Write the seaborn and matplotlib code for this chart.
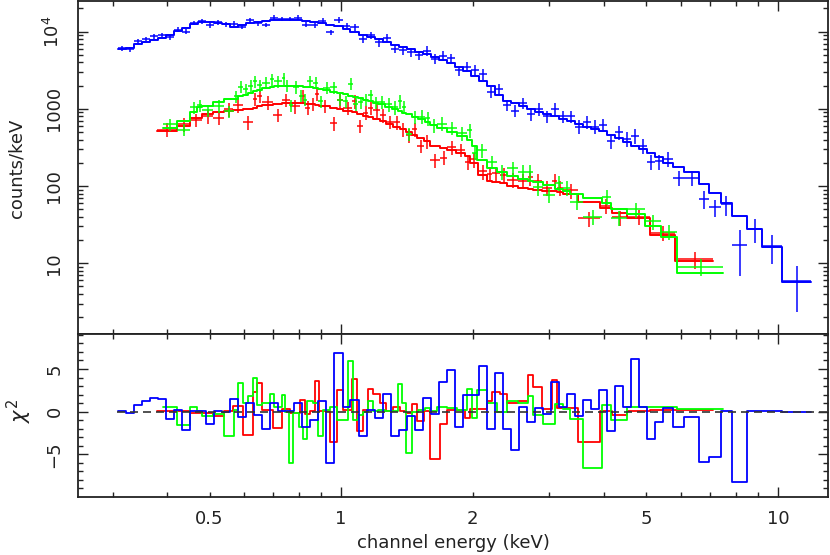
import numpy as np
import pandas as pd
import matplotlib
matplotlib.use("Agg")
import matplotlib.pyplot as plt
import seaborn as sns
from matplotlib.ticker import FixedLocator, NullFormatter

# ---------------- data ----------------
blue_edges = [0.309, 0.322, 0.336, 0.351, 0.366, 0.382, 0.398, 0.415, 0.433, 0.452,
              0.471, 0.492, 0.513, 0.535, 0.558, 0.582, 0.607, 0.633, 0.661, 0.689,
              0.719, 0.750, 0.782, 0.816, 0.851, 0.888, 0.926, 0.966, 1.008,
              1.051, 1.097, 1.144, 1.193, 1.245, 1.298, 1.354, 1.413, 1.474, 1.537,
              1.603, 1.673, 1.745, 1.820, 1.898, 1.980, 2.066, 2.155, 2.248, 2.345,
              2.446, 2.551, 2.661, 2.776, 2.896, 3.021, 3.151, 3.287, 3.428, 3.576,
              3.730, 3.891, 4.059, 4.234, 4.416, 4.607, 4.805, 5.012, 5.228, 5.454,
              5.75, 6.1, 6.6, 6.97, 7.4, 7.85, 8.5, 9.2, 10.2, 11.9]
blue_model = [5950, 6100, 7000, 7400, 7900, 8300, 9200, 10300, 11300, 12700,
              13300, 13400, 13000, 12500, 11600, 12300, 13000, 13500, 13800, 14100,
              14300, 14300, 14100, 13800, 13200, 12800, 12200, 11700,
              11000, 10000, 9200, 8600, 8000, 7300, 6800, 6300, 5900, 5500,
              5100, 4700, 4300, 3900, 3500, 3100, 2700, 2300, 1950, 1500,
              1280, 1200, 1100, 1000, 920, 860, 800, 740, 690, 640,
              590, 545, 510, 460, 415, 370, 335, 300, 270, 240,
              200, 175, 150, 106, 81, 60, 41, 27.7, 16.2, 5.7]
blue_data = [6100, 5950, 7500, 8070, 8700, 9110, 8500, 10670, 9990, 13000,
             13640, 12130, 13300, 12550, 12740, 11540, 14040, 12820, 12240, 15230,
             14660, 14660, 15230, 12320, 12140, 13920, 9810, 14160,
             11930, 11420, 8000, 9060, 7300, 8300, 6000, 5750, 5400, 5000,
             5700, 4450, 4900, 4500, 3150, 3500, 3150, 2800, 1650, 1800,
             1120, 950, 1200, 860, 1000, 800, 1000, 800, 800, 590,
             680, 590, 620, 380, 500, 410, 450, 330, 205, 210,
             225, 128, 127, 68, 53, 58, 17, 28, 16.5, 5.8]
blue_err = [0.07, 0.07, 0.07, 0.07, 0.07, 0.07, 0.07, 0.07, 0.07, 0.07,
            0.07, 0.07, 0.07, 0.07, 0.07, 0.07, 0.07, 0.07, 0.07, 0.07,
            0.07, 0.07, 0.07, 0.07, 0.08, 0.08, 0.08, 0.08,
            0.10, 0.10, 0.11, 0.11, 0.12, 0.12, 0.13, 0.13, 0.13, 0.14,
            0.14, 0.14, 0.15, 0.15, 0.15, 0.15, 0.16, 0.16, 0.16, 0.16,
            0.17, 0.17, 0.17, 0.18, 0.18, 0.18, 0.19, 0.19, 0.19, 0.20,
            0.20, 0.20, 0.20, 0.21, 0.21, 0.21, 0.22, 0.22, 0.22, 0.22,
            0.22, 0.22, 0.22, 0.25, 0.25, 0.30, 0.60, 0.35, 0.40, 0.60]
blue_chi = [0.1, -0.1, 0.8, 1.3, 1.6, 1.5, -0.9, 0.2, -2.1, 0.1,
            0.1, -1.4, 0.1, 0.0, 1.5, -0.6, 1.0, -0.4, -2.0, 1.0,
            0.1, 0.1, 1.0, -1.8, -1.0, 1.2, -6.0, 6.9,
            0.5, 1.4, -2.9, 0.2, -0.8, 2.1, -2.8, -2.1, -0.5, -2.2,
            1.6, -0.3, 3.5, 4.9, -1.8, 2.0, 2.0, 5.3, -2.0, 4.5,
            -2.0, -4.5, 0.5, -1.2, 0.4, -0.3, 3.5, 0.5, 2.1, -0.5,
            1.4, 0.3, 2.5, -2.3, 3.0, 0.6, 6.2, 0.5, -3.2, -1.2,
            0.4, -1.8, -0.6, -5.9, -5.3, 0.05, -8.2, 0.1, 0.05, -0.05]

green_edges = [0.3915, 0.4214, 0.4514, 0.4684, 0.4809, 0.5095, 0.5398, 0.5689, 0.5810, 0.5966,
               0.6125, 0.6289, 0.6423, 0.6594, 0.6879, 0.7025, 0.7328, 0.7445, 0.7604, 0.7766,
               0.8015, 0.8186, 0.8360, 0.8628, 0.8860, 0.9095, 0.9436, 0.9791, 1.0106, 1.0376,
               1.0653, 1.0937, 1.1228, 1.1529, 1.1837, 1.2152, 1.2608, 1.3082, 1.3503, 1.3791,
               1.4084, 1.4537, 1.5006, 1.5570, 1.5985, 1.6585, 1.7483, 1.8428, 1.9425, 1.9944,
               2.0477, 2.1585, 2.2751, 2.3982, 2.5410, 2.6785, 2.7500, 2.8989, 3.0893, 3.2211,
               3.3420, 3.5801, 3.9563, 4.1481, 4.5114, 4.9624, 5.3993, 5.8738, 7.4840]
green_model = [560, 700, 920, 1050, 1100, 1210, 1340, 1340, 1450, 1520,
               1600, 1680, 1750, 1860, 1930, 1990, 1990, 2000, 1990, 1980,
               1960, 1940, 1910, 1860, 1800, 1740, 1670, 1600, 1540, 1480,
               1420, 1370, 1310, 1260, 1200, 1140, 1070, 990, 930, 890,
               850, 790, 730, 670, 610, 560, 500, 440, 398, 330,
               220, 171, 150, 135, 125, 117, 112, 104, 92, 85,
               80, 69, 60, 50, 43, 30, 22, 7.5]
green_data = [630, 540, 1050, 1110, 960, 1090, 935, 1450, 1930, 1790,
              1990, 2290, 2030, 2190, 2430, 2270, 2500, 2000, 1110, 1920,
              1490, 1320, 2290, 2190, 1260, 1880, 1900, 1310, 1260, 2130,
              1160, 1210, 1310, 1510, 1210, 1240, 1140, 1050, 1260, 1070,
              475, 790, 795, 755, 615, 645, 565, 480, 530, 272,
              290, 205, 152, 169, 152, 152, 96, 77, 111, 95,
              63, 40, 72, 39, 50, 35, 25.5, 9.0]
green_err = [0.18, 0.18, 0.18, 0.18, 0.18, 0.18, 0.18, 0.18, 0.18, 0.18,
             0.18, 0.18, 0.18, 0.18, 0.18, 0.18, 0.18, 0.18, 0.18, 0.18,
             0.18, 0.18, 0.18, 0.18, 0.18, 0.18, 0.18, 0.18, 0.18, 0.18,
             0.18, 0.18, 0.18, 0.18, 0.18, 0.20, 0.20, 0.20, 0.20, 0.20,
             0.20, 0.20, 0.20, 0.20, 0.20, 0.20, 0.20, 0.20, 0.20, 0.20,
             0.20, 0.20, 0.22, 0.22, 0.22, 0.22, 0.22, 0.22, 0.22, 0.22,
             0.22, 0.22, 0.22, 0.22, 0.22, 0.22, 0.22, 0.25]
green_chi = [0.5, -1.6, 0.6, 0.1, -0.5, -0.3, -2.8, 0.2, 3.4, 1.0,
             1.8, 4.0, 0.8, 1.0, 2.1, 0.6, 2.0, 0.0, -6.0, -0.1,
             -1.8, -3.2, 1.2, 1.0, -2.8, 0.2, 0.6, -1.0, -1.0, 5.9,
             -1.0, -0.4, 0.0, 1.2, 0.05, 0.2, 0.1, 0.1, 3.2, 1.0,
             -4.9, 0.0, 0.2, 0.4, 0.05, 0.6, 0.4, 0.2, 2.7, -0.8,
             2.5, 1.0, 0.0, 1.3, 1.0, 1.8, -0.4, -1.4, 0.9, 0.3,
             -0.9, -6.6, 0.8, -1.0, 0.5, 0.5, 0.5, 0.3]

red_edges = [0.3793, 0.4214, 0.4514, 0.4809, 0.5095, 0.5398, 0.5662, 0.5966, 0.6289, 0.6423,
             0.6594, 0.6990, 0.7328, 0.7645, 0.8058, 0.8273, 0.8494, 0.8720, 0.8906, 0.9436,
             0.9791, 1.0106, 1.0597, 1.0880, 1.1228, 1.1529, 1.1837, 1.2280, 1.2675, 1.3152,
             1.3646, 1.4084, 1.4537, 1.4927, 1.5488, 1.5985, 1.6847, 1.7483, 1.8331, 1.9220,
             1.9733, 2.0584, 2.1585, 2.2157, 2.3112, 2.3982, 2.5410, 2.6785, 2.7500, 2.8840,
             3.0407, 3.1219, 3.2211, 3.4859, 3.9146, 4.1703, 4.5114, 5.0943, 5.8124, 7.1014]
red_model = [515, 600, 760, 850, 900, 930, 960, 1000, 1040, 1080,
             1120, 1160, 1180, 1190, 1180, 1170, 1150, 1130, 1090, 1040,
             990, 950, 900, 860, 820, 780, 740, 690, 640, 590,
             545, 500, 460, 420, 380, 335, 310, 290, 270, 245,
             200, 140, 118, 112, 108, 100, 95, 92, 88, 86,
             85, 84, 78, 62, 52, 45, 38, 23, 10.7]
red_data = [540, 630, 720, 800, 770, 990, 1120, 670, 1350, 1470,
            1220, 840, 1310, 1085, 1460, 1040, 1160, 1560, 1090, 650,
            1300, 1035, 1250, 600, 895, 1035, 955, 830, 680, 675,
            548, 455, 548, 332, 382, 215, 234, 316, 294, 204,
            222, 155, 144, 146, 139, 120, 117, 130, 118, 95,
            118, 95, 88, 38, 55, 39.5, 40, 25, 11.2]
red_err = [0.20, 0.20, 0.20, 0.20, 0.20, 0.20, 0.20, 0.20, 0.20, 0.20,
           0.20, 0.20, 0.20, 0.20, 0.20, 0.20, 0.20, 0.20, 0.20, 0.20,
           0.20, 0.20, 0.20, 0.20, 0.20, 0.20, 0.20, 0.20, 0.20, 0.20,
           0.20, 0.20, 0.20, 0.20, 0.20, 0.20, 0.20, 0.20, 0.20, 0.20,
           0.22, 0.22, 0.22, 0.22, 0.22, 0.22, 0.22, 0.22, 0.22, 0.22,
           0.22, 0.22, 0.22, 0.22, 0.22, 0.22, 0.22, 0.22, 0.25]
red_chi = [0.1, 0.1, -0.1, -0.1, -0.5, 0.1, 0.7, -2.7, 2.3, 3.3,
           0.2, -1.9, 0.3, -0.2, 1.4, -0.3, 0.05, 3.6, 0.05, -3.5,
           2.5, 0.2, 3.8, -2.3, 0.2, 2.7, 2.1, 1.0, 0.1, 0.5,
           0.05, -0.2, 0.9, -1.1, 0.05, -5.5, -1.5, 0.2, 0.2, -0.7,
           0.3, 0.3, 1.2, 2.3, 2.1, 1.0, 1.3, 4.3, 2.9, 0.3,
           3.7, 0.4, 0.4, -3.6, 0.1, -0.4, 0.1, 0.2, 0.2]

x_major = [1, 10]
x_minor = [0.3, 0.4, 0.5, 0.6, 0.7, 0.8, 0.9, 2, 3, 4, 5, 6, 7, 8, 9]
x_minor_labels = {0.5: "0.5", 2: "2", 5: "5"}
y_top_ticks = [10, 100, 1000, 10000]
y_top_labels = ["10", "100", "1000", r"$10^4$"]
y_bot_ticks = [-5, 0, 5]
y_bot_labels = ["\u22125", "0", "5"]

# ---------------- styling ----------------
sns.set_style("ticks")
plt.rcParams['font.family'] = ['DejaVu Sans']
plt.rcParams['mathtext.fontset'] = 'dejavusans'
TXT = '#222222'

fig = plt.figure(figsize=(8.3, 5.55), dpi=100)
ax1 = fig.add_axes([78 / 830, 1 - 334 / 555, 750 / 830, 333 / 555])
ax2 = fig.add_axes([78 / 830, 1 - 497 / 555, 750 / 830, 163 / 555])

for ax in (ax1, ax2):
    ax.set_xscale('log')
ax1.set_yscale('log')


def draw(edges, model, data, errf, chi, color):
    e = np.asarray(edges, float)
    m = np.asarray(model, float)
    d = np.asarray(data, float)
    f = np.asarray(errf, float)
    r = np.asarray(chi, float)
    lo, hi = e[:-1], e[1:]
    cen = 0.5 * (lo + hi)
    ax1.errorbar(cen, d, xerr=[cen - lo, hi - cen], yerr=d * f, fmt='none',
                 ecolor=color, elinewidth=1.2, capsize=0, alpha=0.9)
    step = pd.DataFrame({'E': e, 'model': np.append(m, m[-1]), 'chi': np.append(r, r[-1])})
    sns.lineplot(data=step, x='E', y='model', ax=ax1, color=color, lw=1.4,
                 drawstyle='steps-post', estimator=None, sort=False, legend=False)
    sns.lineplot(data=step, x='E', y='chi', ax=ax2, color=color, lw=1.3,
                 drawstyle='steps-post', estimator=None, sort=False, legend=False)


draw(red_edges, red_model, red_data, red_err, red_chi, '#ff0000')
draw(green_edges, green_model, green_data, green_err, green_chi, '#00ff00')
draw(blue_edges, blue_model, blue_data, blue_err, blue_chi, '#0000ff')

ax2.plot([0.307, 13.02], [0, 0], color='#333333', lw=1.2, dashes=(4.8, 3.0), zorder=6)

for ax in (ax1, ax2):
    ax.set_xlim(0.25, 13.02)
    ax.xaxis.set_major_locator(FixedLocator(x_major))
    ax.xaxis.set_minor_locator(FixedLocator(x_minor))
    ax.set_xlabel('')
    ax.set_ylabel('')
    ax.tick_params(which='both', direction='in', top=True, right=True,
                   color=TXT, width=1.0, labelsize=13, labelcolor=TXT)
    ax.tick_params(which='major', length=7.2)
    ax.tick_params(which='minor', length=3.6)
    for s in ax.spines.values():
        s.set_linewidth(1.3)
        s.set_color(TXT)

ax1.xaxis.set_major_formatter(NullFormatter())
ax1.xaxis.set_minor_formatter(NullFormatter())
ax2.set_xticks(x_major, labels=['1', '10'])
ax2.set_xticks(x_minor, labels=[x_minor_labels.get(v, '') for v in x_minor], minor=True)
ax2.tick_params(axis='x', which='both', pad=9.0, labelsize=13)

ax1.set_ylim(1.21, 25000)
ax1.set_yticks(y_top_ticks, labels=y_top_labels, rotation=90, va='center')
ax1.yaxis.set_minor_locator(FixedLocator(
    [s * 10 ** k for k in range(0, 5) for s in range(2, 10) if s * 10 ** k < 25000]))
ax1.yaxis.set_minor_formatter(NullFormatter())
ax1.tick_params(axis='y', which='major', pad=10.5)

ax2.set_ylim(-10, 9.1)
ax2.set_yticks(y_bot_ticks, labels=y_bot_labels, rotation=90, va='center')
ax2.yaxis.set_minor_locator(FixedLocator([v for v in range(-9, 10) if v % 5 != 0]))
ax2.tick_params(axis='y', which='major', pad=10.5)

fig.text(453 / 830, 1 - 543 / 555, 'channel energy (keV)', ha='center', va='center',
         fontsize=13, color=TXT)
fig.text(17 / 830, 1 - 168.5 / 555, 'counts/keV', ha='center', va='center',
         rotation=90, fontsize=13, color=TXT)
fig.text(19.5 / 830, 1 - 411 / 555, r'$\chi^2$', ha='center', va='center',
         rotation=90, fontsize=15, color=TXT)

fig.savefig('out.png', dpi=100)
